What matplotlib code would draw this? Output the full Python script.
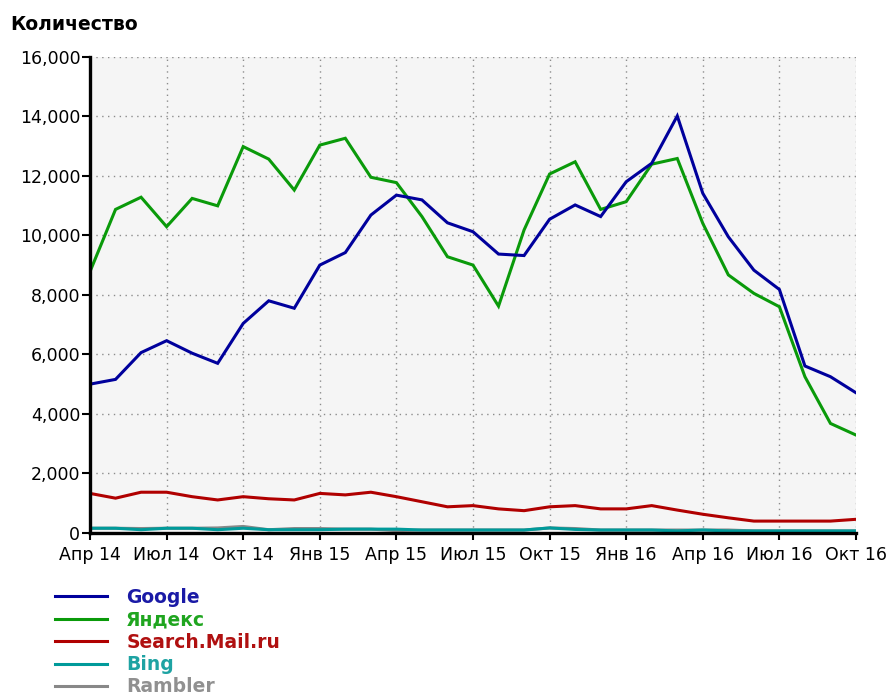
"""
Search engine traffic by month, Apr 2014 - Oct 2016
"""
import matplotlib
matplotlib.use('Agg')
import matplotlib.pyplot as plt

# Data, one value per month Apr 14 .. Oct 16
tick_labels = ['Апр 14', 'Июл 14', 'Окт 14', 'Янв 15', 'Апр 15', 'Июл 15',
               'Окт 15', 'Янв 16', 'Апр 16', 'Июл 16', 'Окт 16']

google = [5000, 5160, 6060, 6460, 6040, 5700, 7040, 7800, 7550, 9000, 9420,
          10680, 11350, 11190, 10420, 10120, 9370, 9320, 10540, 11020, 10630,
          11800, 12420, 14010, 11410, 9950, 8830, 8180, 5610, 5250, 4710]
yandex = [8780, 10870, 11280, 10290, 11240, 10990, 12980, 12560, 11520, 13030,
          13260, 11950, 11770, 10630, 9280, 9000, 7620, 10180, 12060, 12470,
          10870, 11130, 12390, 12580, 10400, 8670, 8050, 7600, 5250, 3680, 3290]
mail = [1330, 1170, 1370, 1370, 1220, 1110, 1220, 1150, 1110, 1330, 1280,
        1370, 1220, 1050, 880, 920, 810, 750, 880, 920, 810, 810, 920, 770,
        630, 510, 400, 400, 400, 400, 460]
bing = [160, 160, 110, 160, 160, 110, 160, 110, 110, 110, 130, 130, 130, 100,
        100, 100, 100, 100, 170, 120, 100, 100, 100, 70, 100, 70, 70, 70, 70,
        70, 70]
rambler = [160, 160, 150, 160, 160, 170, 220, 110, 150, 150, 130, 130, 80, 100,
           100, 100, 100, 100, 170, 150, 100, 100, 100, 100, 100, 100, 70, 70,
           70, 70, 70]

series = [
    ('Google', google, '#00009c', '#1a1aa6'),
    ('Яндекс', yandex, '#0a9a0a', '#1fa51f'),
    ('Search.Mail.ru', mail, '#b00000', '#b01010'),
    ('Bing', bing, '#009a9a', '#1ea3a3'),
    ('Rambler', rambler, '#888888', '#909090'),
]

months = list(range(len(google)))

plt.rcParams['font.family'] = ['DejaVu Sans']

fig = plt.figure(figsize=(8.87, 6.96), dpi=100)
ax = fig.add_axes([90 / 887, 1 - 533 / 696, (856 - 90) / 887, (533 - 56.7) / 696])
ax.set_facecolor('#f5f5f5')

# draw Rambler first so Bing sits on top, but keep legend order
handles = {}
for name, vals, color, _ in reversed(series):
    line, = ax.plot(months, vals, color=color, linewidth=2.2, solid_joinstyle='miter')
    handles[name] = line

ax.set_xlim(0, 30)
ax.set_ylim(0, 16000)
ax.set_xticks(range(0, 31, 3))
ax.set_xticklabels(tick_labels, fontsize=12.5)
ax.set_yticks(range(0, 16001, 2000))
ax.yaxis.set_major_formatter(plt.FuncFormatter(lambda v, _: f'{int(v):,}'))
ax.tick_params(axis='y', labelsize=12.5, length=6, width=1.5, pad=1)
ax.tick_params(axis='x', length=5, width=1.5, pad=4)

ax.grid(True, color='#8c8c8c', linewidth=1.0, linestyle=(0, (1, 3.2)))
ax.set_axisbelow(True)

ax.spines[['top', 'right']].set_visible(False)
for side in ['left', 'bottom']:
    ax.spines[side].set_linewidth(2.4)
    ax.spines[side].set_color('black')

fig.text(10 / 887, 1 - 25 / 696, 'Количество', fontsize=13.5, fontweight='bold',
         va='center', ha='left')

leg = fig.legend([handles[s[0]] for s in series], [s[0] for s in series],
                 loc='upper left', bbox_to_anchor=(55 / 887, 1 - 588 / 696),
                 frameon=False, borderpad=0, borderaxespad=0,
                 handlelength=2.8, handletextpad=1.0, labelspacing=0.18,
                 prop={'weight': 'bold', 'size': 13.5},
                 labelcolor=[s[3] for s in series])

fig.savefig('out.png', dpi=100, facecolor='white')
